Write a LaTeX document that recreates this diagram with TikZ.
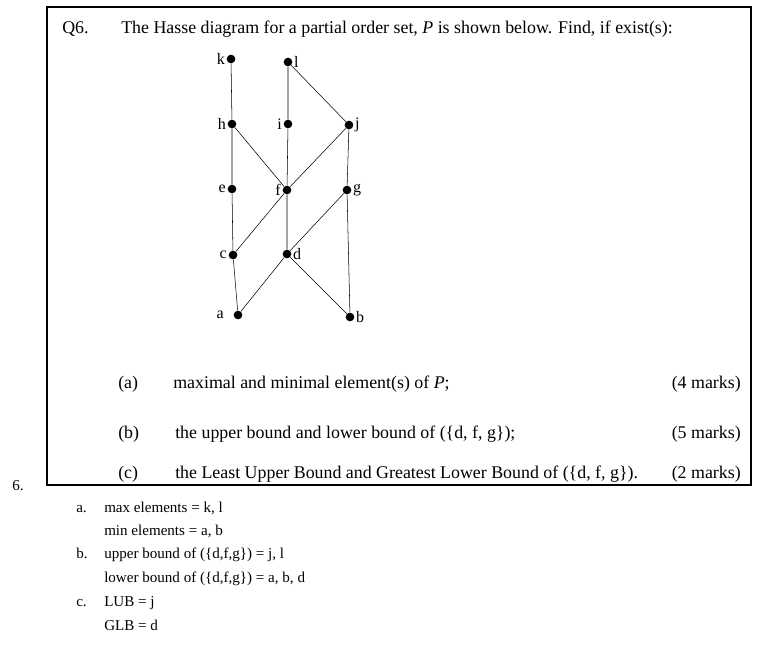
\documentclass[tikz,border=0pt]{standalone}
\usepackage{fontspec}
\setmainfont{Liberation Serif}
\begin{document}
\begin{tikzpicture}[x=0.75pt,y=-0.75pt,
  dot/.style={circle,fill=black,inner sep=0pt,minimum size=6.5pt},
  lab/.style={font=\fontsize{12}{14}\selectfont,inner sep=1pt},
  txt/.style={font=\fontsize{13.4}{15}\selectfont,anchor=base west,inner sep=0pt},
  ans/.style={font=\fontsize{11.3}{13}\selectfont,anchor=base west,inner sep=0pt}]
\useasboundingbox (0,0) rectangle (770,651);
\draw[line width=0.8pt] (47,7) rectangle (751,485);
\node[dot,label={[lab]left:k}] (k) at (231,59) {};
\node[dot,label={[lab]right:l}] (l) at (288,62) {};
\node[dot,label={[lab]left:h}] (h) at (232,124) {};
\node[dot,label={[lab]left:i}] (i) at (288,124) {};
\node[dot,label={[lab]right:j}] (j) at (349,125) {};
\node[dot,label={[lab]left:e}] (e) at (232,189) {};
\node[dot,label={[lab]left:f}] (f) at (287,190) {};
\node[dot,label={[lab]right:g}] (g) at (347,190) {};
\node[dot,label={[lab]left:c}] (c) at (233,255) {};
\node[dot,label={[lab]right:d}] (d) at (287,254) {};
\node[dot,label={[lab,xshift=-6pt]left:a}] (a) at (238,315) {};
\node[dot,label={[lab]right:b}] (b) at (350,317) {};
\draw (k)--(h) (h)--(e) (e)--(c) (c)--(a) (a)--(d) (d)--(b) (b)--(g) (g)--(j) (j)--(l)
 (l)--(i) (i)--(f) (f)--(d) (h)--(f) (f)--(j) (c)--(f) (d)--(g);
\node[txt] (q) at (62,33) {Q6.};
\node[txt] (t) at (121,33) {The Hasse diagram for a partial order set, \textit{P} is shown below. Find, if exist(s):};
\node[txt] (pa) at (118,388) {(a)};
\node[txt] (ta) at (173,388) {maximal and minimal element(s) of \textit{P};};
\node[txt,anchor=base east] (ma) at (741,388) {(4 marks)};
\node[txt] (pb) at (118,438) {(b)};
\node[txt] (tb) at (175,438) {the upper bound and lower bound of (\{d, f, g\});};
\node[txt,anchor=base east] (mb) at (741,438) {(5 marks)};
\node[txt] (pc) at (118,478) {(c)};
\node[txt] (tc) at (175,478) {the Least Upper Bound and Greatest Lower Bound of (\{d, f, g\}).};
\node[txt,anchor=base east] (mc) at (741,478) {(2 marks)};
\node[ans] (six) at (12,490) {6.};
\node[ans] (la) at (76,512) {a.};
\node[ans] (l1) at (104,512) {max elements = k, l};
\node[ans] (l2) at (104,535) {min elements = a, b};
\node[ans] (lb) at (76,558) {b.};
\node[ans] (l3) at (104,558) {upper bound of (\{d,f,g\}) = j, l};
\node[ans] (l4) at (104,582) {lower bound of (\{d,f,g\}) = a, b, d};
\node[ans] (lc) at (76,606) {c.};
\node[ans] (l5) at (104,606) {LUB = j};
\node[ans] (l6) at (104,630) {GLB = d};
\end{tikzpicture}
\end{document}
